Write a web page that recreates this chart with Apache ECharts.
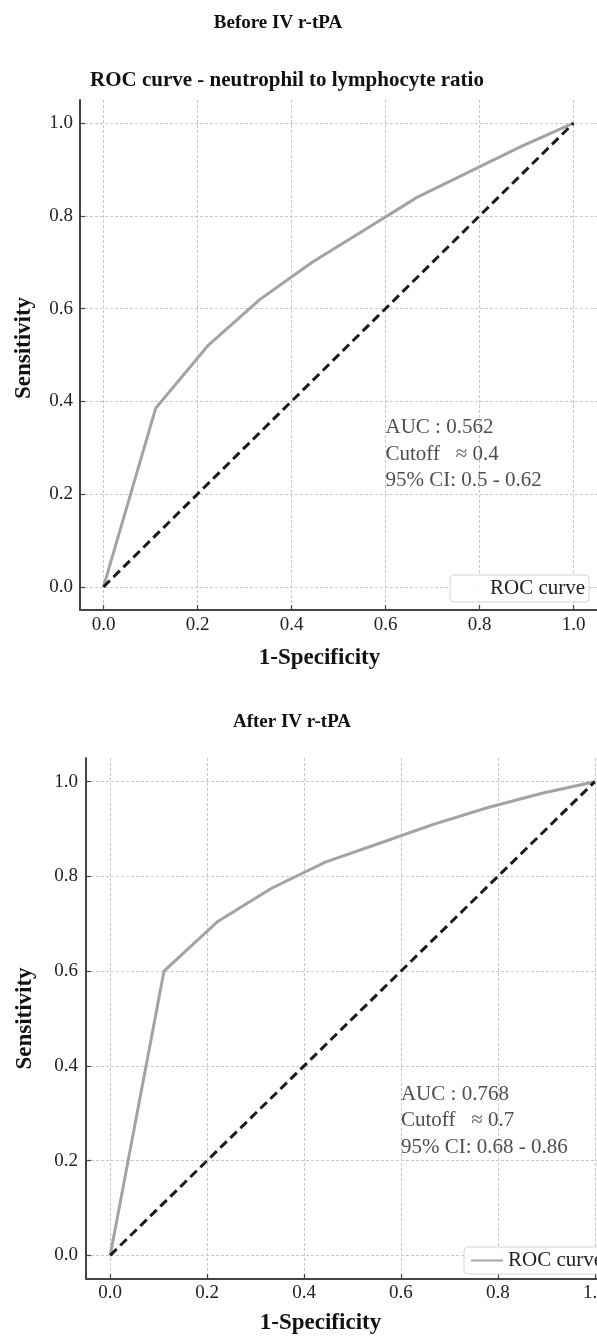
<!DOCTYPE html>
<html>
<head>
<meta charset="utf-8">
<script src="https://cdn.jsdelivr.net/npm/echarts@6/dist/echarts.min.js"></script>
<style>html,body{margin:0;padding:0;background:#fff;overflow:hidden;width:597px;height:1336px;}#c{width:640px;height:1336px;}</style>
</head>
<body>
<div id="c"></div>
<script>
// ---- data ----
const fprBefore = [0, 0.111, 0.222, 0.333, 0.444, 0.556, 0.667, 0.778, 0.889, 1];
const tprBefore = [0, 0.385, 0.52, 0.62, 0.70, 0.77, 0.84, 0.895, 0.95, 1];
const fprAfter = [0, 0.111, 0.222, 0.333, 0.444, 0.556, 0.667, 0.778, 0.889, 1];
const tprAfter = [0, 0.60, 0.705, 0.775, 0.83, 0.87, 0.91, 0.945, 0.975, 1];
const chanceX = [0, 1];
const chanceY = [0, 1];
const tickValues = [0, 0.2, 0.4, 0.6, 0.8, 1.0];
const noteBefore = ['AUC : 0.562', 'Cutoff   \u2248 0.4', '95% CI: 0.5 - 0.62'];
const noteAfter = ['AUC : 0.768', 'Cutoff   \u2248 0.7', '95% CI: 0.68 - 0.86'];
const notePos = [0.6, 0.2];
const seriesName = 'ROC curve';

const FONT = '"Liberation Serif", "Times New Roman", serif';
const zip = (a, b) => a.map((v, i) => [v, b[i]]);

function axisCommon(o) {
  return {
    type: 'value', min: -0.05, max: 1.05, gridIndex: o.gridIndex,
    name: o.name, nameGap: o.nameGap, nameLocation: 'middle',
    axisLine: { show: true, onZero: false, lineStyle: { color: '#444', width: 2 } },
    axisTick: { show: true, inside: true, length: 5, customValues: tickValues, lineStyle: { color: '#444', width: 1.2 } },
    axisLabel: { color: '#222', fontFamily: FONT, fontSize: 19, margin: o.margin, customValues: tickValues,
      formatter: v => v.toFixed(1) },
    splitLine: { show: true, lineStyle: { color: '#c8c8c8', type: [3, 2], width: 1 } },
    nameTextStyle: { color: '#111', fontFamily: FONT, fontSize: 23, fontWeight: 'bold', padding: o.pad || 0 }
  };
}

const chart = echarts.init(document.getElementById('c'), null, { renderer: 'canvas' });
const option = {
  backgroundColor: '#fff',
  animation: false,
  grid: [
    { left: 80, top: 100, width: 517, height: 510, containLabel: false },
    { left: 86, top: 758, width: 533, height: 524, containLabel: false }
  ],
  xAxis: [
    axisCommon({ gridIndex: 0, name: '1-Specificity', nameGap: 37, margin: 6, pad: [0, 38, 0, 0] }),
    axisCommon({ gridIndex: 1, name: '1-Specificity', nameGap: 33, margin: 5, pad: [0, 64, 0, 0] })
  ],
  yAxis: [
    axisCommon({ gridIndex: 0, name: 'Sensitivity', nameGap: 44, margin: 7, pad: [0, 0, 0, 14] }),
    axisCommon({ gridIndex: 1, name: 'Sensitivity', nameGap: 49, margin: 8 })
  ],
  legend: [
    { left: 450, top: 575, orient: 'horizontal', padding: [3, 4, 3, 6], itemWidth: 28, itemHeight: 14,
      backgroundColor: 'rgba(255,255,255,0.9)', borderColor: '#d4d4d4', borderWidth: 1, borderRadius: 4,
      textStyle: { fontFamily: FONT, fontSize: 21, color: '#222' },
      data: [{ name: seriesName, itemStyle: { opacity: 0 }, lineStyle: { opacity: 0 } }] },
    { left: 464, top: 1247, orient: 'horizontal', padding: [3, 4, 3, 6], itemWidth: 32, itemHeight: 14, itemGap: 4,
      backgroundColor: 'rgba(255,255,255,0.9)', borderColor: '#d4d4d4', borderWidth: 1, borderRadius: 4,
      textStyle: { fontFamily: FONT, fontSize: 21, color: '#222' },
      itemStyle: { opacity: 0 },
      data: [seriesName] }
  ],
  graphic: [
    { type: 'text', x: 278, y: 23, style: { text: 'Before IV r-tPA', fill: '#111', font: 'bold 19px ' + FONT, align: 'center', verticalAlign: 'middle' } },
    { type: 'text', x: 287, y: 81, style: { text: 'ROC curve - neutrophil to lymphocyte ratio', fill: '#111', font: 'bold 21px ' + FONT, align: 'center', verticalAlign: 'middle' } },
    { type: 'text', x: 292, y: 722, style: { text: 'After IV r-tPA', fill: '#111', font: 'bold 19px ' + FONT, align: 'center', verticalAlign: 'middle' } }
  ],
  series: [
    { name: seriesName, type: 'line', xAxisIndex: 0, yAxisIndex: 0, data: zip(fprBefore, tprBefore),
      symbol: 'none', lineStyle: { color: '#a3a3a3', width: 3 }, itemStyle: { color: '#a3a3a3' }, z: 3 },
    { name: 'chance0', type: 'line', xAxisIndex: 0, yAxisIndex: 0, data: zip(chanceX, chanceY),
      symbol: 'none', lineStyle: { color: '#1a1a1a', width: 3, type: [9, 5] }, z: 4 },
    { name: 'note0', type: 'scatter', xAxisIndex: 0, yAxisIndex: 0, data: [notePos], symbolSize: 0, silent: true,
      label: { show: true, position: [0, 0], align: 'left', verticalAlign: 'bottom', formatter: noteBefore.join('\n'),
        fontFamily: FONT, fontSize: 21, lineHeight: 26.5, color: '#222' } },
    { name: seriesName, type: 'line', xAxisIndex: 1, yAxisIndex: 1, data: zip(fprAfter, tprAfter),
      symbol: 'none', lineStyle: { color: '#a3a3a3', width: 3 }, itemStyle: { color: '#a3a3a3' }, z: 3 },
    { name: 'chance1', type: 'line', xAxisIndex: 1, yAxisIndex: 1, data: zip(chanceX, chanceY),
      symbol: 'none', lineStyle: { color: '#1a1a1a', width: 3, type: [9, 5] }, z: 4 },
    { name: 'note1', type: 'scatter', xAxisIndex: 1, yAxisIndex: 1, data: [notePos], symbolSize: 0, silent: true,
      label: { show: true, position: [0, 0], align: 'left', verticalAlign: 'bottom', formatter: noteAfter.join('\n'),
        fontFamily: FONT, fontSize: 21, lineHeight: 26.5, color: '#222' } }
  ]
};
chart.setOption(option);
</script>
</body>
</html>
